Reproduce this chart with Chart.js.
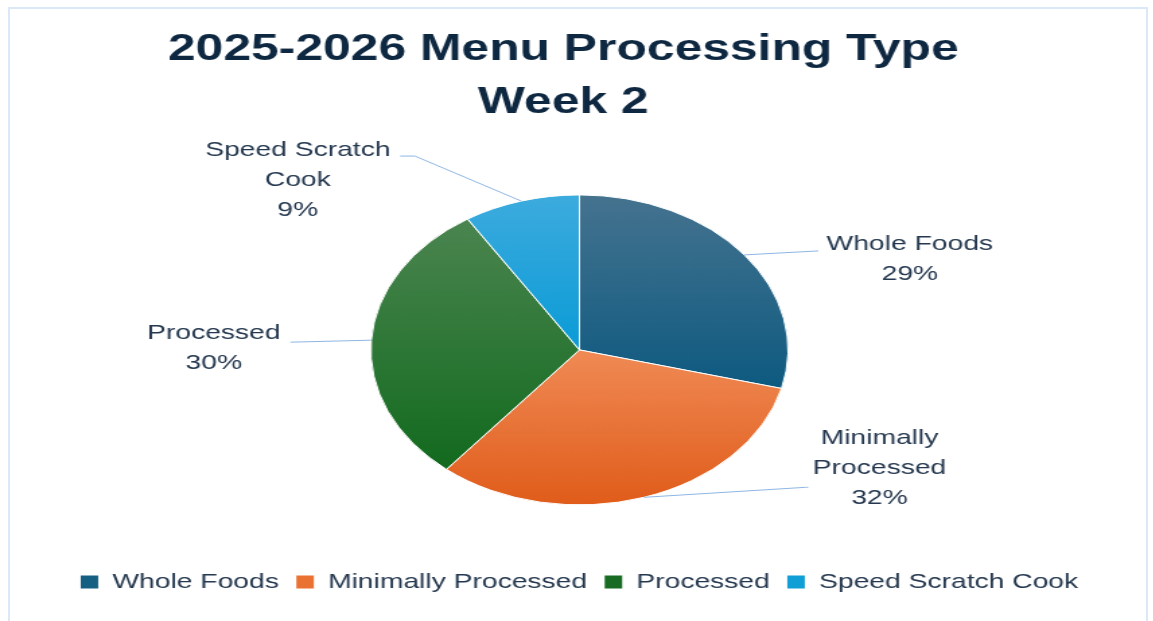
<!DOCTYPE html>
<html>
<head>
<meta charset="utf-8">
<title>2025-2026 Menu Processing Type - Week 2</title>
<script src="https://cdn.jsdelivr.net/npm/chart.js@4.4.1/dist/chart.umd.min.js"></script>
<style>
  html, body { margin: 0; padding: 0; background: #ffffff; }
  body { width: 1153px; height: 621px; position: relative; overflow: hidden; }
  /* the source picture is stretched sideways, so the chart is drawn narrow and widened */
  #menuChart { position: absolute; left: 0; top: 0; transform: scaleX(1.346); transform-origin: 0 0; }
  .frame { position: absolute; left: 8px; top: 7px; width: 1140px; height: 620px; border: 2px solid #dbe8f7; box-sizing: border-box; }
</style>
</head>
<body>
<div class="frame"></div>
<canvas id="menuChart" width="857" height="621"></canvas>

<script>
// chart data
const titleLines = ["2025-2026 Menu Processing Type", "Week 2"];
const categories = ["Whole Foods", "Minimally Processed", "Processed", "Speed Scratch Cook"];
const shares = [29, 32, 30, 9];
// how the category names wrap beside the pie
const labelLines = [["Whole Foods"], ["Minimally", "Processed"], ["Processed"], ["Speed Scratch", "Cook"]];

// styling
const baseColors = ["#156082", "#E97132", "#196B24", "#0F9ED5"];
const gradTop = ["#45738f", "#f08a55", "#4b8550", "#3dabde"];
const gradBottom = ["#0e5a80", "#e05c1a", "#126a1e", "#0a9bd6"];
const textColor = "#25384f";
const fontFamily = "'Liberation Sans', Arial, sans-serif";

// label offsets (px) from the slice's outer mid point: text centre, leader elbow, leader end
const labelLayout = [
  { text: [123, 4],    elbow: [55, -4],   end: [55, -4] },
  { text: [175, -29],  elbow: [120, -10], end: [122, -10] },
  { text: [-117, 8],   elbow: [-60, 2],   end: [-60, 2] },
  { text: [-166, -21], elbow: [-79, -45], end: [-90, -45] }
];

const total = shares.reduce((a, b) => a + b, 0);

// vertical gradient fill per slice, like the Excel shape gradient
const sliceGradients = {
  id: "sliceGradients",
  beforeDatasetsDraw(chart) {
    const ctx = chart.ctx;
    chart.getDatasetMeta(0).data.forEach((arc, i) => {
      const r = arc.outerRadius;
      let ys = [arc.y, arc.y + r * Math.sin(arc.startAngle), arc.y + r * Math.sin(arc.endAngle)];
      [Math.PI / 2, -Math.PI / 2, Math.PI * 1.5].forEach(a => {
        if (a > arc.startAngle && a < arc.endAngle) ys.push(arc.y + r * Math.sin(a));
      });
      const g = ctx.createLinearGradient(0, Math.min(...ys), 0, Math.max(...ys));
      g.addColorStop(0, gradTop[i]);
      g.addColorStop(1, gradBottom[i]);
      arc.options.backgroundColor = g;
    });
  }
};

// outside labels with leader lines
const outsideLabels = {
  id: "outsideLabels",
  afterDatasetsDraw(chart) {
    const ctx = chart.ctx;
    ctx.save();
    chart.getDatasetMeta(0).data.forEach((arc, i) => {
      const mid = (arc.startAngle + arc.endAngle) / 2;
      const ax = arc.x + arc.outerRadius * Math.cos(mid);
      const ay = arc.y + arc.outerRadius * Math.sin(mid);
      const lay = labelLayout[i];

      ctx.strokeStyle = "#8fb5e3";
      ctx.lineWidth = 1;
      ctx.beginPath();
      ctx.moveTo(ax, ay);
      ctx.lineTo(ax + lay.elbow[0], ay + lay.elbow[1]);
      ctx.lineTo(ax + lay.end[0], ay + lay.end[1]);
      ctx.stroke();

      const lines = labelLines[i].concat([Math.round(shares[i] / total * 100) + "%"]);
      const cx = ax + lay.text[0];
      const cy = ay + lay.text[1];
      const lh = 30;
      ctx.fillStyle = textColor;
      ctx.font = "21px " + fontFamily;
      ctx.textAlign = "center";
      ctx.textBaseline = "middle";
      lines.forEach((t, k) => {
        ctx.fillText(t, cx, cy + (k - (lines.length - 1) / 2) * lh);
      });
    });
    ctx.restore();
  }
};

// title sits a little left of the pie in the original
const titleNudge = {
  id: "titleNudge",
  afterLayout(chart) {
    chart.titleBlock.right -= 24;
  }
};

const ctx = document.getElementById("menuChart").getContext("2d");

new Chart(ctx, {
  type: "pie",
  data: {
    labels: categories,
    datasets: [{
      data: shares,
      backgroundColor: baseColors,
      borderColor: "#ffffff",
      borderWidth: 1,
      radius: 155
    }]
  },
  options: {
    responsive: false,
    animation: false,
    events: [],
    layout: { padding: { left: 4, right: 0, top: 0, bottom: 18.5 } },
    plugins: {
      title: {
        display: true,
        text: titleLines,
        color: "#0e2841",
        font: { family: fontFamily, size: 37, weight: "bold", lineHeight: 1.43 },
        padding: { top: 23.5, bottom: 12 }
      },
      legend: {
        position: "bottom",
        labels: {
          color: textColor,
          font: { family: fontFamily, size: 21 },
          boxWidth: 13,
          boxHeight: 13,
          padding: 13,
          generateLabels(chart) {
            return categories.map((name, i) => ({
              text: name,
              fillStyle: baseColors[i],
              strokeStyle: baseColors[i],
              lineWidth: 0,
              hidden: false,
              index: i,
              fontColor: textColor
            }));
          }
        }
      },
      tooltip: { enabled: false }
    }
  },
  plugins: [sliceGradients, outsideLabels, titleNudge]
});
</script>
</body>
</html>
